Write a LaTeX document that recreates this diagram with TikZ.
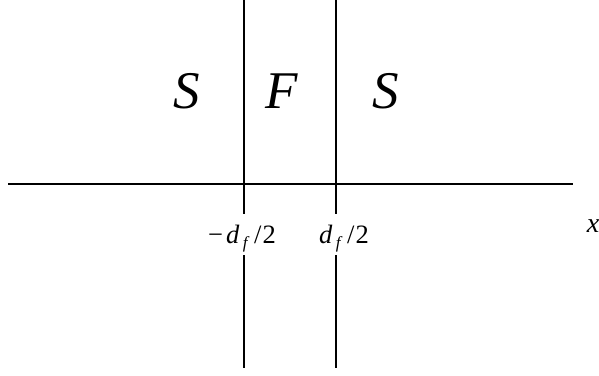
\documentclass[tikz,border=0pt]{standalone}
\usepackage{fontspec}
\setmainfont{Liberation Serif}
\usetikzlibrary{positioning}

\newcommand{\subf}{\hspace{3.5pt}\raisebox{-5.5pt}{\fontsize{17}{17}\selectfont\itshape f}\hspace{6.5pt}}

\begin{document}
\begin{tikzpicture}[
    x=1pt, y=-1pt,
    region/.style={font=\fontsize{53}{53}\selectfont\itshape, inner sep=0pt},
    tick/.style={font=\fontsize{26.5}{26.5}\selectfont, inner sep=0pt,
        text height=29pt, text depth=12pt, anchor=base},
    wall/.style={line width=1.2pt, black},
    axis/.style={line width=2.6pt, black},
]
\useasboundingbox (0,0) rectangle (599,375);

% interfaces
\coordinate (ltop) at (244,0);
\coordinate (lbot) at (244,368);
\coordinate (rtop) at (336,0);
\coordinate (rbot) at (336,368);

% axe x
\coordinate (xa) at (8,184);
\coordinate (xb) at (573,184);
\draw[axis] (xa) -- (xb);
\node[font=\fontsize{28}{28}\selectfont\itshape, inner sep=0pt] (xlab) at (593,226) {x};

% positions
\node[tick] (lpos) at (242,243) {−\hspace{3pt}{\itshape d}\subf/\hspace{1pt}2};
\node[tick] (rpos) at (344,243) {{\itshape d}\subf/\hspace{1pt}2};

\draw[wall] (ltop) -- (ltop |- lpos.north);
\draw[wall] (ltop |- lpos.south) -- (lbot);
\draw[wall] (rtop) -- (rtop |- rpos.north);
\draw[wall] (rtop |- rpos.south) -- (rbot);

% regions
\node[region] (sl) at (187,91) {S};
\node[region] (fm) at (282,91) {F};
\node[region] (sr) at (386,91) {S};

\end{tikzpicture}
\end{document}
